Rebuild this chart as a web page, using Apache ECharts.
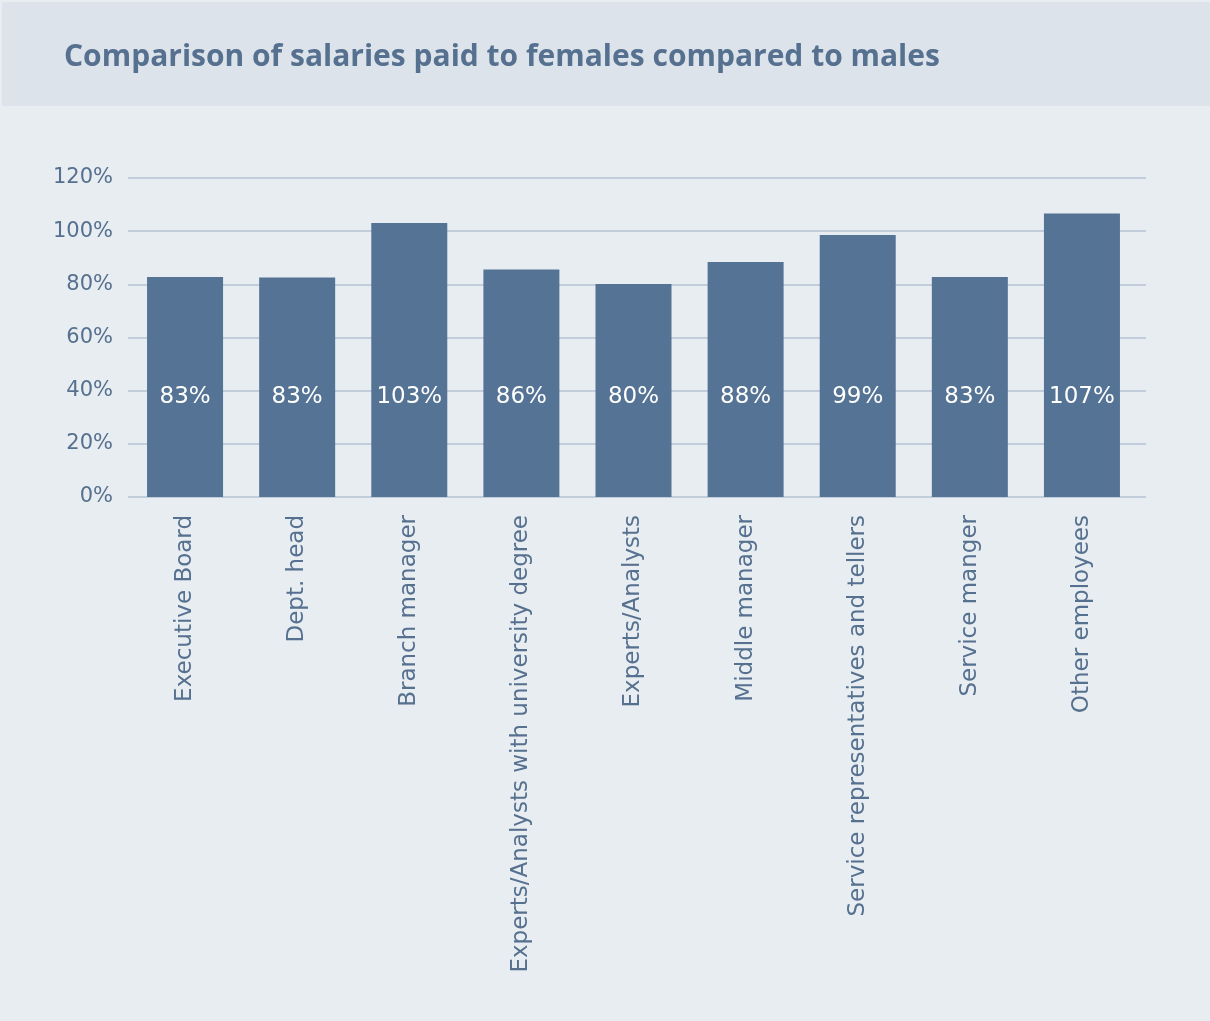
<!DOCTYPE html>
<html>
<head>
<meta charset="utf-8">
<style>
  html, body { margin: 0; padding: 0; background: #e8edf1; }
  #main { width: 1210px; height: 1021px; }
</style>
<script src="https://cdn.jsdelivr.net/npm/echarts@6/dist/echarts.min.js"></script>
</head>
<body>
<div id="main"></div>
<script>
// categories and values
const categories = [
  "Executive Board",
  "Dept. head",
  "Branch manager",
  "Experts/Analysts with university degree",
  "Experts/Analysts",
  "Middle manager",
  "Service representatives and tellers",
  "Service manger",
  "Other employees"
];
const ratios = [82.8, 82.6, 103.1, 85.6, 80.1, 88.4, 98.6, 82.8, 106.6];
const labels = ["83%", "83%", "103%", "86%", "80%", "88%", "99%", "83%", "107%"];
const yTicks = [0, 20, 40, 60, 80, 100, 120];

const textColor = "#56708f";
const font = "'DejaVu Sans', sans-serif";

var myChart = echarts.init(document.getElementById("main"));

var option = {
  backgroundColor: "#e8edf1",
  textStyle: { fontFamily: font },
  graphic: [
    {
      type: "rect",
      shape: { x: 2, y: 2, width: 1208, height: 104 },
      style: { fill: "#dce3ea" },
      z: -1
    }
  ],
  title: {
    text: "Comparison of salaries paid to females compared to males",
    left: 59,
    top: 37,
    textStyle: {
      color: textColor,
      fontSize: 30,
      fontWeight: "bold",
      fontFamily: "'Open Sans', sans-serif"
    }
  },
  grid: [
    // bars
    { left: 129, right: 72, top: 178, bottom: 524, containLabel: false },
    // gridlines and y labels
    { left: 128, right: 64, top: 178, bottom: 524, containLabel: false }
  ],
  xAxis: [
    {
      type: "category",
      gridIndex: 0,
      data: categories,
      axisLine: { show: false },
      axisTick: { show: false },
      axisLabel: {
        rotate: 90,
        margin: 18,
        color: textColor,
        fontSize: 23,
        fontFamily: font,
        interval: 0
      }
    },
    {
      type: "value",
      gridIndex: 1,
      show: false
    }
  ],
  yAxis: [
    {
      type: "value",
      gridIndex: 0,
      min: yTicks[0],
      max: yTicks[yTicks.length - 1],
      interval: 20,
      show: false
    },
    {
      type: "value",
      gridIndex: 1,
      min: yTicks[0],
      max: yTicks[yTicks.length - 1],
      interval: 20,
      axisLine: { show: false },
      axisTick: { show: false },
      axisLabel: {
        formatter: "{value}%",
        margin: 15,
        color: textColor,
        fontSize: 21,
        fontFamily: font
      },
      splitLine: {
        show: true,
        lineStyle: { color: "#b4c2d2", width: 1.5 }
      }
    }
  ],
  series: [
    {
      type: "bar",
      xAxisIndex: 0,
      yAxisIndex: 0,
      data: ratios,
      barWidth: 76,
      itemStyle: { color: "#557394" },
      label: {
        show: true,
        position: "insideBottom",
        distance: 88,
        color: "#ffffff",
        fontSize: 23,
        fontFamily: font,
        formatter: function (p) {
          return labels[p.dataIndex];
        }
      },
      z: 3
    }
  ]
};

option && myChart.setOption(option);
</script>
</body>
</html>
